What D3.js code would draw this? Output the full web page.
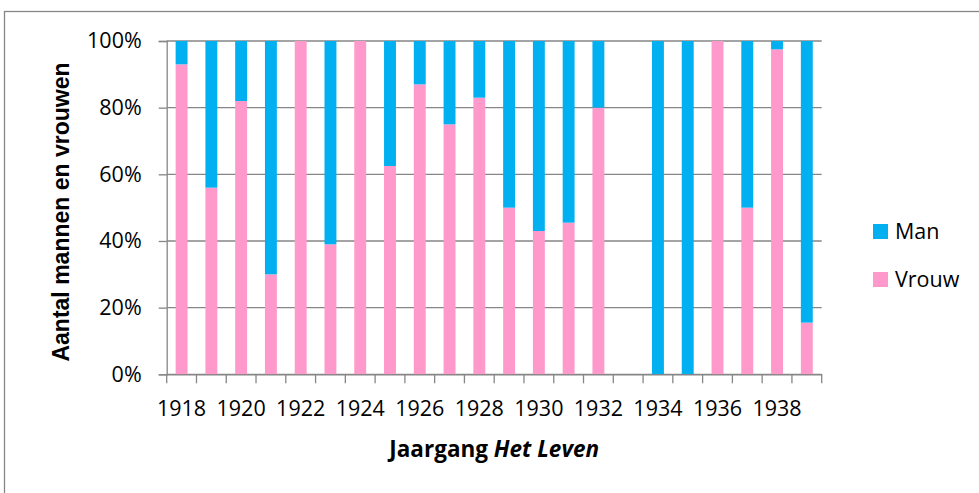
<!DOCTYPE html>
<html>
<head>
<meta charset="utf-8">
<script src="https://cdn.jsdelivr.net/npm/d3@7"></script>
<style>
body { margin: 0; background: #fff; }
</style>
</head>
<body>
<script>

// jaargangen en aandeel man / vrouw (1933 ontbreekt)
var years = ["1918","1919","1920","1921","1922","1923","1924","1925","1926","1927","1928",
             "1929","1930","1931","1932","1933","1934","1935","1936","1937","1938","1939"];
var vrouw = [0.93,0.56,0.82,0.30,1.0,0.39,1.0,0.625,0.87,0.75,0.83,
             0.5,0.43,0.455,0.80,0,0,0,1.0,0.5,0.975,0.155];
var man   = [0.07,0.44,0.18,0.70,0,0.61,0,0.375,0.13,0.25,0.17,
             0.5,0.57,0.545,0.20,0,1.0,1.0,0,0.5,0.025,0.845];
var yTicks = [0, 0.2, 0.4, 0.6, 0.8, 1.0];
var series = ["Vrouw", "Man"];
var colors = {Man: "#00B0F0", Vrouw: "#FF99CC"};

var W = 979, H = 493;
var pLeft = 166.7, pRight = 821.7, pTop = 41, pBottom = 374.3;
var grid = "#868686";
var font = "'Open Sans', sans-serif";

var svg = d3.select("body").append("svg")
    .attr("width", W)
    .attr("height", H);

// rand om de grafiek
svg.append("rect")
    .attr("x", 4.5).attr("y", 11.5)
    .attr("width", 1000).attr("height", 500)
    .attr("fill", "none")
    .attr("stroke", grid)
    .attr("stroke-width", 1.3);

var x = d3.scaleBand()
    .domain(years)
    .range([pLeft, pRight])
    .paddingInner(0.6)
    .paddingOuter(0.3);

var y = d3.scaleLinear()
    .domain([0, 1])
    .range([pBottom, pTop]);

// gridlijnen
svg.selectAll("line.grid")
    .data(yTicks)
    .enter()
    .append("line")
    .attr("class", "grid")
    .attr("x1", pLeft).attr("x2", pRight)
    .attr("y1", function(d){ return y(d); })
    .attr("y2", function(d){ return y(d); })
    .attr("stroke", grid)
    .attr("stroke-width", 1.3);

var table = years.map(function(yr, i){
    return {year: yr, Vrouw: vrouw[i], Man: man[i]};
});
var stacked = d3.stack().keys(series)(table);

svg.selectAll("g.layer")
    .data(stacked)
    .enter()
    .append("g")
    .attr("class", "layer")
    .attr("fill", function(d){ return colors[d.key]; })
    .selectAll("rect")
    .data(function(d){ return d; })
    .enter()
    .append("rect")
    .attr("x", function(d){ return x(d.data.year); })
    .attr("width", x.bandwidth())
    .attr("y", function(d){ return y(d[1]); })
    .attr("height", function(d){ return y(d[0]) - y(d[1]); });

// y-as
var yAxis = svg.append("g")
    .attr("transform", "translate(" + pLeft + ",0)")
    .call(d3.axisLeft(y).tickValues(yTicks).tickFormat(d3.format(".0%"))
        .tickSize(8).tickPadding(17));
yAxis.select(".domain").attr("stroke", grid).attr("stroke-width", 1.3);
yAxis.selectAll(".tick line").attr("stroke", grid).attr("stroke-width", 1.3);
yAxis.selectAll("text")
    .attr("font-family", font)
    .attr("font-size", 21.5)
    .attr("fill", "#000");

// x-as
var xAxis = svg.append("g")
    .attr("transform", "translate(0," + pBottom + ")")
    .call(d3.axisBottom(x)
        .tickValues(years.filter(function(d, i){ return i % 2 == 0; }))
        .tickSize(0).tickPadding(26));
xAxis.select(".domain").attr("stroke", grid).attr("stroke-width", 1.3);
xAxis.selectAll("text")
    .attr("font-family", font)
    .attr("font-size", 21.5)
    .attr("fill", "#000");

// streepjes op de grenzen tussen jaargangen
var step = x.step();
var bounds = years.map(function(d){ return x(d) - step * x.paddingOuter(); });
bounds.push(pRight);
svg.selectAll("line.xtick")
    .data(bounds)
    .enter()
    .append("line")
    .attr("class", "xtick")
    .attr("x1", function(d){ return d; })
    .attr("x2", function(d){ return d; })
    .attr("y1", pBottom).attr("y2", pBottom + 9)
    .attr("stroke", grid)
    .attr("stroke-width", 1.3);

// astitels
svg.append("text")
    .attr("x", (pLeft + pRight) / 2)
    .attr("y", 457)
    .attr("text-anchor", "middle")
    .attr("font-family", font)
    .attr("font-weight", "bold")
    .attr("font-size", 22.5)
    .html("Jaargang <tspan font-style='italic'>Het Leven</tspan>");

svg.append("text")
    .attr("transform", "translate(69,212) rotate(-90)")
    .attr("text-anchor", "middle")
    .attr("font-family", "'Liberation Sans', Arial, sans-serif")
    .attr("font-weight", "bold")
    .attr("font-size", 23)
    .text("Aantal mannen en vrouwen");

// legenda
var legend = svg.selectAll("g.legend")
    .data(["Man", "Vrouw"])
    .enter()
    .append("g")
    .attr("class", "legend")
    .attr("transform", function(d, i){ return "translate(873," + (224 + i * 48) + ")"; });
legend.append("rect")
    .attr("width", 15).attr("height", 15)
    .attr("fill", function(d){ return colors[d]; });
legend.append("text")
    .attr("x", 22).attr("y", 15)
    .attr("font-family", font)
    .attr("font-size", 21.5)
    .text(function(d){ return d; });

</script>
</body>
</html>
